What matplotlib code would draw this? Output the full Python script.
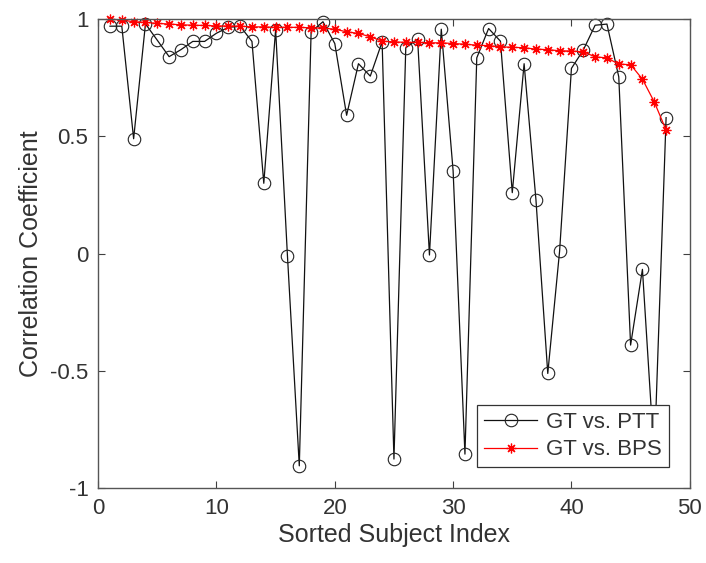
import matplotlib
matplotlib.use("Agg")
import matplotlib.pyplot as plt
import numpy as np

subject_index = list(range(1, 49))
gt_vs_ptt = [0.97, 0.97, 0.49, 0.98, 0.91, 0.84, 0.87, 0.905, 0.905, 0.94,
             0.965, 0.97, 0.905, 0.30, 0.955, -0.01, -0.905, 0.946, 0.989, 0.896,
             0.59, 0.81, 0.757, 0.903, -0.876, 0.878, 0.915, -0.006, 0.957, 0.353,
             -0.855, 0.835, 0.96, 0.906, 0.26, 0.81, 0.23, -0.511, 0.011, 0.79,
             0.868, 0.974, 0.979, 0.754, -0.39, -0.067, -0.87, 0.58]
gt_vs_bps = [1.0, 0.996, 0.989, 0.986, 0.982, 0.979, 0.976, 0.974, 0.973, 0.971,
             0.971, 0.970, 0.967, 0.967, 0.965, 0.965, 0.965, 0.963, 0.962, 0.957,
             0.946, 0.939, 0.925, 0.906, 0.903, 0.901, 0.901, 0.899, 0.899, 0.896,
             0.893, 0.889, 0.887, 0.882, 0.880, 0.878, 0.872, 0.870, 0.865, 0.864,
             0.861, 0.839, 0.835, 0.808, 0.806, 0.744, 0.647, 0.527]
x_ticks = [0, 10, 20, 30, 40, 50]
y_ticks = [-1, -0.5, 0, 0.5, 1]
y_tick_labels = ["-1", "-0.5", "0", "0.5", "1"]

plt.rcParams['font.family'] = ['Liberation Sans', 'DejaVu Sans']
text_color = '#333333'

fig = plt.figure(figsize=(7.06, 5.63), dpi=100)
ax = fig.add_axes([0.139, 0.133, 0.838, 0.833])

ax.plot(subject_index, gt_vs_ptt, color='#111111', lw=0.9, marker='o',
        markersize=9, markerfacecolor='none', markeredgecolor='#222222',
        markeredgewidth=0.8, label='GT vs. PTT', clip_on=False)
ax.plot(subject_index, gt_vs_bps, color='red', lw=0.9, marker=(8, 2, 0),
        markersize=7, markeredgewidth=0.9, label='GT vs. BPS', clip_on=False)

ax.set_xlim(0, 50)
ax.set_ylim(-1, 1)
ax.set_xticks(x_ticks)
ax.set_xticklabels([str(t) for t in x_ticks])
ax.set_yticks(y_ticks)
ax.set_yticklabels(y_tick_labels)
ax.tick_params(direction='in', top=True, right=True, length=5, width=0.8,
               color='#404040', labelsize=16, labelcolor=text_color, pad=7)
for s in ax.spines.values():
    s.set_color('#555555')
    s.set_linewidth(1.0)

ax.set_xlabel('Sorted Subject Index', fontsize=18, color=text_color, labelpad=3)
ax.set_ylabel('Correlation Coefficient', fontsize=18, color=text_color, labelpad=5)

leg = ax.legend(loc='lower right', fontsize=16, frameon=True, fancybox=False,
                edgecolor='#333333', framealpha=1, handlelength=2.4,
                borderaxespad=0.95, borderpad=0.3, labelspacing=0.3,
                handletextpad=0.4)
leg.get_frame().set_linewidth(0.9)
for t in leg.get_texts():
    t.set_color(text_color)

fig.savefig('out.png', dpi=100)
